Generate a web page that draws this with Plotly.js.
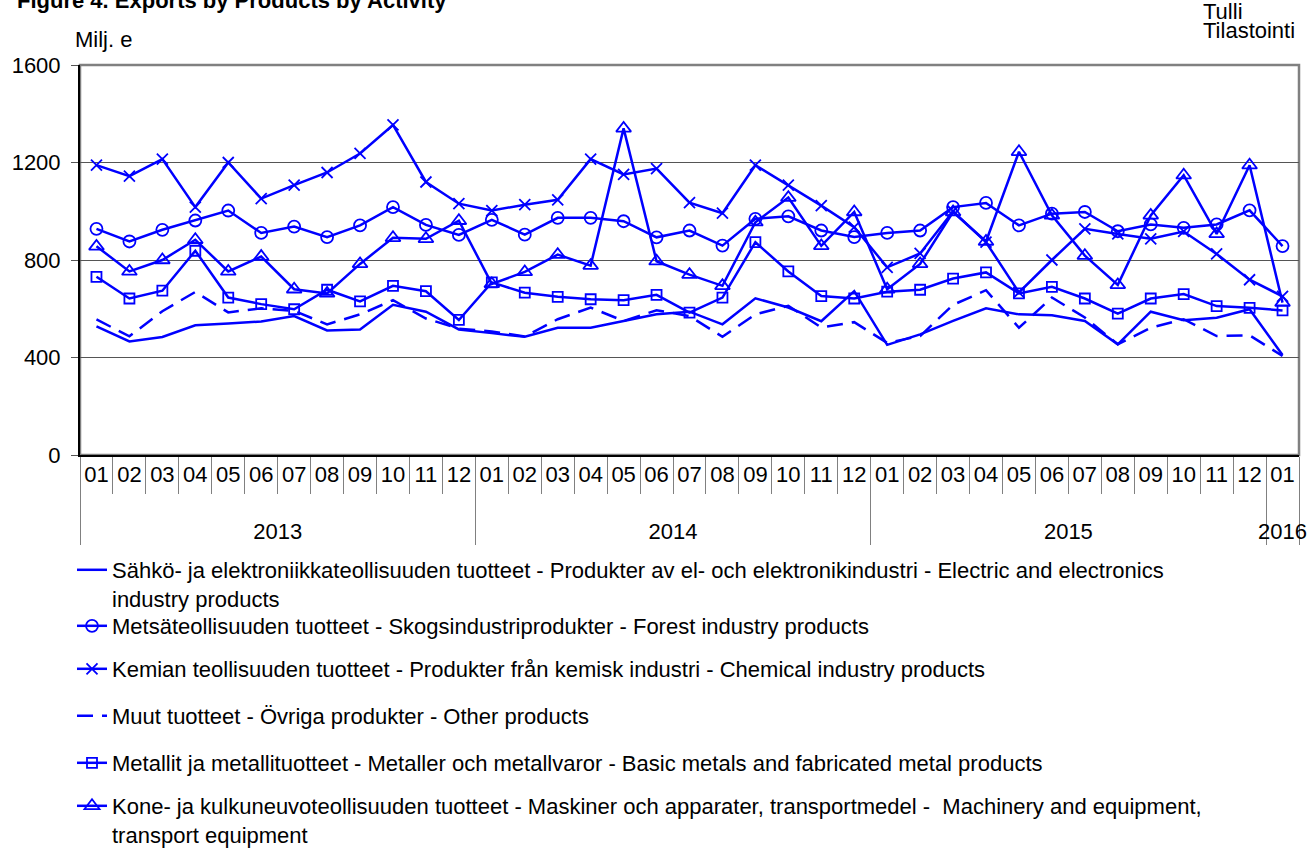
<!DOCTYPE html>
<html>
<head>
<meta charset="utf-8">
<script src="https://cdn.plot.ly/plotly-3.0.1.min.js"></script>
<style>html,body{margin:0;padding:0;background:#fff;}#chart{width:1309px;height:850px;}</style>
</head>
<body>
<div id="chart"></div>
<script>
// ---- data (Milj. e) ----
var years = ['2013','2013','2013','2013','2013','2013','2013','2013','2013','2013','2013','2013',
             '2014','2014','2014','2014','2014','2014','2014','2014','2014','2014','2014','2014',
             '2015','2015','2015','2015','2015','2015','2015','2015','2015','2015','2015','2015',
             '2016'];
var months = ['01','02','03','04','05','06','07','08','09','10','11','12',
              '01','02','03','04','05','06','07','08','09','10','11','12',
              '01','02','03','04','05','06','07','08','09','10','11','12',
              '01'];

var electric = [528,466,484,532,539,548,570,511,515,616,588,515,
                500,485,522,522,550,577,588,536,643,605,549,672,
                452,495,550,602,577,573,550,454,588,553,563,598,
                410];
var forest = [928,876,924,962,1003,911,937,894,942,1017,944,903,
              965,904,973,973,959,893,921,859,969,979,921,894,
              911,921,1017,1034,942,990,997,918,946,932,946,1004,
              857];
var chemical = [1189,1144,1214,1017,1200,1052,1107,1159,1237,1354,1120,1031,
                1003,1027,1047,1214,1151,1175,1035,992,1189,1107,1023,935,
                770,827,1000,873,667,800,928,907,887,917,825,719,
                651];
var other = [556,487,590,669,585,602,591,536,577,635,560,518,
             507,486,557,605,550,594,570,485,577,612,523,545,
             460,488,616,676,522,646,564,454,522,557,488,491,
             406];
var metals = [731,642,674,838,646,619,598,678,630,694,672,554,
              708,666,649,639,635,657,584,646,873,753,652,642,
              670,678,724,749,663,690,642,580,642,660,611,604,
              593];
var machinery = [856,753,800,883,753,814,680,663,784,891,887,961,
                 702,751,822,777,1340,795,740,694,955,1056,858,997,
                 680,784,997,876,1244,983,818,698,983,1148,907,1189,
                 625];

var seriesNames = [
  'Sähkö- ja elektroniikkateollisuuden tuotteet - Produkter av el- och elektronikindustri - Electric and electronics<br>industry products',
  'Metsäteollisuuden tuotteet - Skogsindustriprodukter - Forest industry products',
  'Kemian teollisuuden tuotteet - Produkter från kemisk industri - Chemical industry products',
  'Muut tuotteet - Övriga produkter - Other products',
  'Metallit ja metallituotteet - Metaller och metallvaror - Basic metals and fabricated metal products',
  'Kone- ja kulkuneuvoteollisuuden tuotteet - Maskiner och apparater, transportmedel -\u00a0 Machinery and equipment,<br>transport equipment'
];

// ---- styling ----
var BLUE = '#0000FF';
var FONT = 'Liberation Sans, Arial, sans-serif';
// year labels sit one text line lower than Plotly's default (blank first line)
var yearLabels = years.map(function (y) { return '<br>' + y; });
var xcat = [yearLabels, months];

function tr(y, name, legendId, mode, symbol, size, dash) {
  var t = {
    type: 'scatter', x: xcat, y: y, name: name, legend: legendId,
    mode: mode, line: {color: BLUE, width: 2.5, dash: dash || 'solid'},
    hoverinfo: 'y+name'
  };
  if (symbol) t.marker = {symbol: symbol, size: size, color: BLUE, line: {color: BLUE, width: 1.8}};
  return t;
}

var data = [
  tr(electric, seriesNames[0], 'legend', 'lines'),
  tr(forest, seriesNames[1], 'legend2', 'lines+markers', 'circle-open', 12),
  tr(chemical, seriesNames[2], 'legend3', 'lines+markers', 'x-thin-open', 11),
  tr(other, seriesNames[3], 'legend4', 'lines', null, 0, '16px,9px'),
  tr(metals, seriesNames[4], 'legend5', 'lines+markers', 'square-open', 10),
  tr(machinery, seriesNames[5], 'legend6', 'lines+markers', 'triangle-up-open', 13)
];

var H = 850, W = 1309;
var legendTops = [549, 605, 648, 695, 742, 785];
function leg(i) {
  return {
    xref: 'container', yref: 'container',
    x: 72 / W, y: 1 - legendTops[i] / H,
    xanchor: 'left', yanchor: 'top',
    font: {family: FONT, size: 22, color: '#000'},
    bgcolor: 'rgba(0,0,0,0)', borderwidth: 0,
    valign: 'top', itemwidth: 30, tracegroupgap: 0
  };
}

var layout = {
  width: W, height: H,
  paper_bgcolor: '#fff', plot_bgcolor: '#fff',
  margin: {l: 80, r: 10, t: 65, b: 395, pad: 0, autoexpand: false},
  font: {family: FONT, size: 22, color: '#000'},
  title: {
    text: '<b>Figure 4. Exports by Products by Activity</b>',
    xref: 'container', yref: 'container', x: 17 / W, xanchor: 'left',
    y: 1, yanchor: 'middle', font: {family: FONT, size: 22, color: '#000'}
  },
  showlegend: true,
  legend: leg(0), legend2: leg(1), legend3: leg(2),
  legend4: leg(3), legend5: leg(4), legend6: leg(5),
  xaxis: {
    type: 'multicategory',
    autorange: false, range: [-0.5, months.length - 0.5],
    showline: true, linecolor: '#000', linewidth: 2,
    ticks: 'outside', tickson: 'boundaries', ticklen: 37, tickcolor: '#808080', tickwidth: 1,
    ticklabelstandoff: -1,
    showdividers: true, dividercolor: '#808080', dividerwidth: 1,
    tickangle: 0,
    tickfont: {family: FONT, size: 22, color: '#000'},
    showgrid: false, zeroline: false
  },
  yaxis: {
    range: [0, 1600], autorange: false, dtick: 400, tick0: 0,
    showline: true, linecolor: '#000', linewidth: 2,
    ticks: 'outside', ticklen: 7, tickcolor: '#555', tickwidth: 1,
    ticklabelstandoff: 6,
    showgrid: true, gridcolor: '#555', gridwidth: 1,
    zeroline: false,
    tickfont: {family: FONT, size: 22, color: '#000'}
  },
  shapes: [{
    type: 'rect', xref: 'paper', yref: 'paper', x0: 0, x1: 1, y0: 0, y1: 1,
    line: {color: '#808080', width: 2.5}, layer: 'below'
  }],
  annotations: [
    {text: 'Milj. e', xref: 'paper', yref: 'paper', x: -7 / 1219, y: 1 + 25.7 / 390,
     xanchor: 'left', yanchor: 'middle', showarrow: false, font: {family: FONT, size: 22, color: '#000'}},
    {text: 'Tulli', xref: 'paper', yref: 'paper', x: 1121 / 1219, y: 1 + 53.5 / 390,
     xanchor: 'left', yanchor: 'middle', showarrow: false, font: {family: FONT, size: 22, color: '#000'}},
    {text: 'Tilastointi', xref: 'paper', yref: 'paper', x: 1121 / 1219, y: 1 + 35 / 390,
     xanchor: 'left', yanchor: 'middle', showarrow: false, font: {family: FONT, size: 22, color: '#000'}}
  ]
};

Plotly.newPlot('chart', data, layout, {staticPlot: true, displayModeBar: false});
</script>
</body>
</html>
